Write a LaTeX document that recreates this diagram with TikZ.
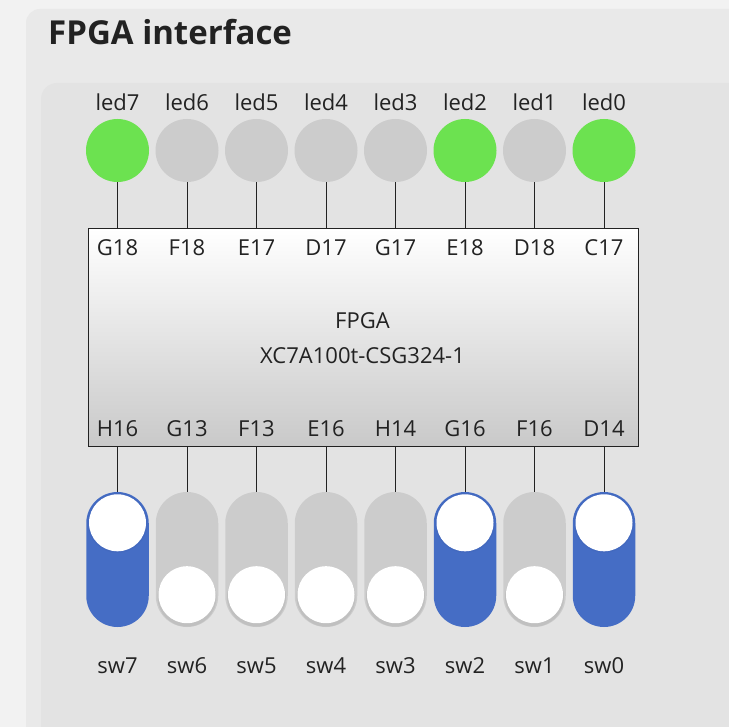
\documentclass[tikz,border=0pt]{standalone}
\usepackage{fontspec}
\setmainfont{Open Sans}
\usetikzlibrary{calc}
\definecolor{bgpage}{HTML}{F2F2F2}
\definecolor{bgouter}{HTML}{E9E9E9}
\definecolor{bginner}{HTML}{E3E3E3}
\definecolor{ledon}{HTML}{6CE250}
\definecolor{ledoff}{HTML}{CCCCCC}
\definecolor{swon}{HTML}{456DC5}
\definecolor{swoff}{HTML}{CCCCCC}
\definecolor{txt}{HTML}{222222}
\definecolor{boxbot}{HTML}{C9C9C9}
\definecolor{knobshadow}{HTML}{B8B8B8}
\tikzset{
  lbl/.style={font=\fontsize{22}{25}\selectfont, text=txt, inner sep=0pt},
  ledbox/.style={circle, minimum size=63pt, inner sep=0pt},
  trackbox/.style={rectangle, rounded corners=31.25pt, minimum width=62.5pt, minimum height=135pt, inner sep=0pt},
  knob/.style={circle, fill=white, minimum size=57pt, inner sep=0pt},
  wire/.style={draw=txt, line width=0.9pt},
}
\begin{document}
\begin{tikzpicture}[x=1pt,y=-1pt]
\useasboundingbox (0,0) rectangle (729,727);
\fill[bgpage] (0,0) rectangle (729,727);
\fill[bgouter, rounded corners=14pt] (26,9) rectangle (780,780);
\fill[bginner, rounded corners=16pt] (41,83) rectangle (780,780);
\node[anchor=base west, inner sep=0pt, text=txt, font=\fontsize{33}{38}\selectfont\bfseries] (title) at (48,45) {FPGA interface};

% FPGA box
\node[draw=txt, line width=0.9pt, top color=white, bottom color=boxbot, minimum width=550pt, minimum height=218pt, inner sep=0pt, anchor=north west] (fpga) at (88,228) {};
\node[lbl] (fpganame) at (362.5,321) {FPGA};
\node[lbl] (fpgapart) at (362.5,356) {XC7A100t-CSG324-1};

\def\ledstates{{1,0,0,0,0,1,0,1}}
\def\swstates{{1,0,0,0,0,1,0,1}}
\foreach \i/\lp/\sp in {0/G18/H16,1/F18/G13,2/E17/F13,3/D17/E16,4/G17/H14,5/E18/G16,6/D18/F16,7/C17/D14} {
  \pgfmathsetmacro{\cx}{117.5+69.5*\i}
  \pgfmathtruncatemacro{\num}{7-\i}
  \pgfmathtruncatemacro{\ls}{\ledstates[\i]}
  \pgfmathtruncatemacro{\ss}{\swstates[\i]}
  % LED label and LED
  \node[lbl] (ledlbl\num) at (\cx,102) {led\num};
  \ifnum\ls=1
    \node[ledbox, fill=ledon] (led\num) at (\cx,150.5) {};
  \else
    \node[ledbox, fill=ledoff] (led\num) at (\cx,150.5) {};
  \fi
  % pin labels
  \node[lbl] (pint\num) at (\cx,248) {\lp};
  \node[lbl] (pinb\num) at (\cx,429) {\sp};
  % switch
  \ifnum\ss=1
    \node[trackbox, fill=swon] (sw\num) at (\cx,559.5) {};
    \fill[swon!85!black, opacity=0.2] ($(sw\num.north)+(0,31)$) circle (30pt);
    \node[knob] (knob\num) at ($(sw\num.north)+(0,31)$) {};
  \else
    \node[trackbox, fill=swoff] (sw\num) at (\cx,559.5) {};
    \fill[knobshadow, opacity=0.6] ($(sw\num.south)+(0,-30)$) circle (29.5pt);
    \node[knob] (knob\num) at ($(sw\num.south)+(0,-32.5)$) {};
  \fi
  \node[lbl] (swlbl\num) at (\cx,666) {sw\num};
  % wires
  \draw[wire] (led\num.south) -- (led\num.south |- fpga.north);
  \draw[wire] (sw\num.north |- fpga.south) -- (sw\num.north);
}
\end{tikzpicture}
\end{document}
